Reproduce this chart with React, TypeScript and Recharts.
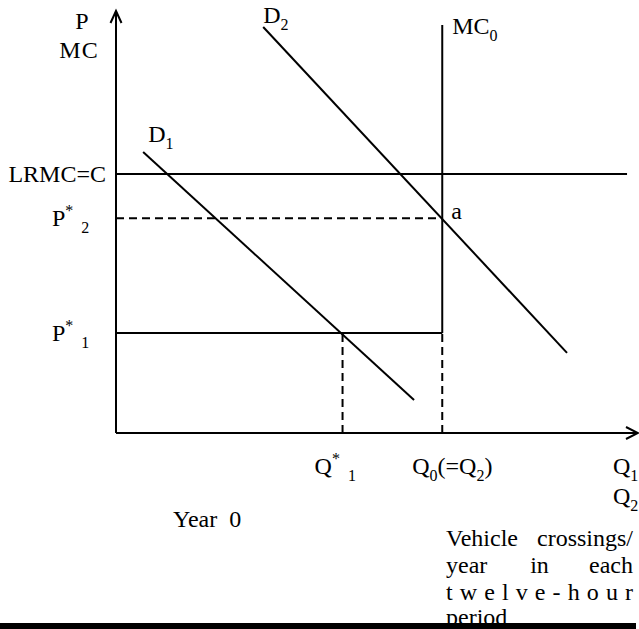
import { ComposedChart, Line, ReferenceDot, XAxis, YAxis } from "recharts";

// price / quantity levels (arbitrary units, axes run 0–100)
const Q_STAR_1 = 43.4;
const Q_0 = 62.5;
const Q_LRMC_END = 97.9;
const P_STAR_1 = 23.7;
const P_STAR_2 = 50.9;
const P_LRMC = 61.4;
const P_MC_TOP = 96.7;

const demand1 = [
  { q: 5.2, p: 66.6 },
  { q: 57.1, p: 7.8 },
];
const demand2 = [
  { q: 28.2, p: 96.2 },
  { q: 86.4, p: 19.0 },
];

const mcSolid = [
  { q: Q_0, p: P_STAR_1 },
  { q: Q_0, p: P_MC_TOP },
];
const mcDashed = [
  { q: Q_0, p: 0 },
  { q: Q_0, p: P_STAR_1 },
];
const lrmc = [
  { q: 0, p: P_LRMC },
  { q: Q_LRMC_END, p: P_LRMC },
];
const price2 = [
  { q: 0, p: P_STAR_2 },
  { q: Q_0, p: P_STAR_2 },
];
const price1 = [
  { q: 0, p: P_STAR_1 },
  { q: Q_0, p: P_STAR_1 },
];
const qStar1 = [
  { q: Q_STAR_1, p: 0 },
  { q: Q_STAR_1, p: P_STAR_1 },
];
const yAxisLine = [
  { q: 0, p: 0 },
  { q: 0, p: 100 },
];
const xAxisLine = [
  { q: 0, p: 0 },
  { q: 100, p: 0 },
];

const footnote = ["Vehicle crossings/", "year in each", "twelve-hour", "period"];

const FONT = "'Liberation Serif', 'Times New Roman', serif";
const SIZE = 24;
const SMALL = 16;

type Part = [string, ("sup" | "sub")?, number?];

function Tag({
  cx,
  cy,
  parts,
  dx = 0,
  dy = 0,
  anchor = "start",
  spacing = 0,
}: {
  cx: number;
  cy: number;
  parts: Part[];
  dx?: number;
  dy?: number;
  anchor?: "start" | "middle" | "end";
  spacing?: number;
}) {
  let shift = 0;
  return (
    <text
      x={cx + dx}
      y={cy + dy}
      textAnchor={anchor}
      fontFamily={FONT}
      fontSize={SIZE}
      fill="#000"
      letterSpacing={spacing}
    >
      {parts.map(([t, kind, gap], i) => {
        const target = kind === "sup" ? -10 : kind === "sub" ? 7 : 0;
        const d = target - shift;
        shift = target;
        return (
          <tspan key={i} dy={d} dx={gap ?? 0} fontSize={kind ? SMALL : SIZE}>
            {t}
          </tspan>
        );
      })}
    </text>
  );
}

const label = (
  q: number,
  p: number,
  parts: Part[],
  dx: number,
  dy: number,
  anchor: "start" | "middle" | "end" = "start",
  spacing = 0
) => (
  <ReferenceDot
    x={q}
    y={p}
    r={0}
    ifOverflow="visible"
    shape={(props: any) => (
      <Tag
        cx={props.cx}
        cy={props.cy}
        parts={parts}
        dx={dx}
        dy={dy}
        anchor={anchor}
        spacing={spacing}
      />
    )}
  />
);

const arrowDot = (dir: "up" | "right") => (props: any) => {
  const { cx, cy, index } = props;
  if (index !== 1) return <g key={`a-${dir}-${index}`} />;
  const d =
    dir === "up"
      ? `M${cx - 5.5},${cy + 12} L${cx},${cy} L${cx + 5.5},${cy + 12}`
      : `M${cx - 12},${cy - 6} L${cx},${cy} L${cx - 12},${cy + 6}`;
  return (
    <path key={`a-${dir}`} d={d} fill="none" stroke="#000" strokeWidth={2} />
  );
};

const seg = (data: { q: number; p: number }[], name: string, dash?: string) => (
  <Line
    key={name}
    name={name}
    data={data}
    dataKey="p"
    type="linear"
    stroke="#000"
    strokeWidth={2}
    strokeDasharray={dash}
    dot={false}
    activeDot={false}
    isAnimationActive={false}
  />
);

// justified line: first word flush left, last flush right, the rest evenly between
const Justified = ({ words, y }: { words: string[]; y: number }) => (
  <>
    {words.map((w, i, arr) => (
      <text
        key={w}
        x={446 + (187 * i) / (arr.length - 1)}
        y={y}
        textAnchor={i === 0 ? "start" : i === arr.length - 1 ? "end" : "middle"}
      >
        {w}
      </text>
    ))}
  </>
);

export default function App() {
  return (
    <div style={{ position: "absolute", left: 0, top: 0, width: 639, height: 629, background: "#fff" }}>
      <ComposedChart
        width={639}
        height={629}
        margin={{ top: 11, right: 1, bottom: 196, left: 116 }}
      >
        <XAxis type="number" dataKey="q" domain={[0, 100]} hide />
        <YAxis type="number" dataKey="p" domain={[0, 100]} hide />

        {seg(lrmc, "LRMC")}
        {seg(price2, "P2", "8 5")}
        {seg(price1, "P1")}
        {seg(qStar1, "Q1", "8 5")}
        {seg(mcSolid, "MC0")}
        {seg(mcDashed, "MC0d", "8 5")}
        {seg(demand1, "D1")}
        {seg(demand2, "D2")}
        <Line
          name="yAxis"
          data={yAxisLine}
          dataKey="p"
          stroke="#000"
          strokeWidth={2}
          dot={arrowDot("up")}
          activeDot={false}
          isAnimationActive={false}
        />
        <Line
          name="xAxis"
          data={xAxisLine}
          dataKey="p"
          stroke="#000"
          strokeWidth={2}
          dot={arrowDot("right")}
          activeDot={false}
          isAnimationActive={false}
        />

        {label(0, 100, [["P"]], -34, 18, "middle")}
        {label(0, 100, [["MC"]], -37, 47, "middle", 1)}
        {label(0, P_LRMC, [["LRMC=C"]], -10, 8, "end")}
        {label(0, P_STAR_2, [["P"], ["*", "sup"], ["2", "sub", 8]], -64, 8)}
        {label(0, P_STAR_1, [["P"], ["*", "sup"], ["1", "sub", 8]], -64, 8)}
        {label(Q_STAR_1, 0, [["Q"], ["*", "sup"], ["1", "sub", 8]], -28, 41)}
        {label(Q_0, 0, [["Q"], ["0", "sub"], ["(=Q"], ["2", "sub"], [")"]], -30, 41)}
        {label(100, 0, [["Q"], ["1", "sub"]], -25, 41)}
        {label(100, 0, [["Q"], ["2", "sub"]], -25, 71)}
        {label(Q_0, P_MC_TOP, [["MC"], ["0", "sub"]], 10, 9)}
        {label(Q_0, P_STAR_2, [["a"]], 9, 1)}
        {label(demand2[0].q, demand2[0].p, [["D"], ["2", "sub"]], 0, -4)}
        {label(demand1[0].q, demand1[0].p, [["D"], ["1", "sub"]], 5, -10)}
      </ComposedChart>

      <svg
        width={639}
        height={629}
        style={{ position: "absolute", left: 0, top: 0, pointerEvents: "none" }}
        fontFamily={FONT}
        fontSize={SIZE}
      >
        <text x={173} y={527}>
          Year{"\u00a0 "}0
        </text>
        <Justified words={footnote[0].split(" ")} y={546} />
        <Justified words={footnote[1].split(" ")} y={573} />
        <text x={446} y={600} textLength={187} lengthAdjust="spacing">
          {footnote[2]}
        </text>
        <text x={446} y={625}>
          {footnote[3]}
        </text>
        <rect x={0} y={623} width={636} height={6} fill="#000" />
      </svg>
    </div>
  );
}
